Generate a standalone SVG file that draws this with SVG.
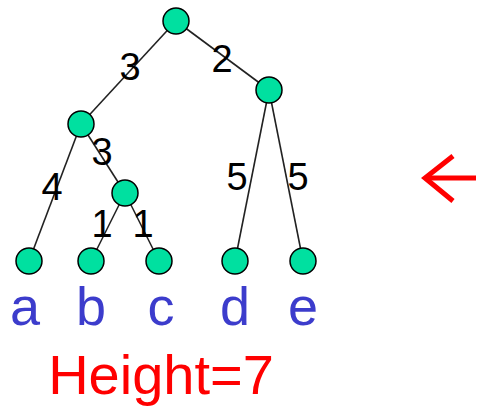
<svg xmlns="http://www.w3.org/2000/svg" width="477" height="406" viewBox="0 0 477 406">
<style>
.n{fill:#00e0a0;stroke:#000;stroke-width:1.5}
.e{stroke:#222;stroke-width:1.6;fill:none}
.w{font-family:"Liberation Sans",Arial,sans-serif;font-size:38px;fill:#000;text-anchor:middle}
.l{font-family:"Liberation Sans",Arial,sans-serif;font-size:54px;fill:#3c3ccc;text-anchor:middle}
</style>
<rect width="477" height="406" fill="#fff"/>
<g id="connectors">
<line class="e" x1="176" y1="21" x2="81" y2="124"/>
<line class="e" x1="176" y1="21" x2="269" y2="90"/>
<line class="e" x1="81" y1="124" x2="29" y2="261"/>
<line class="e" x1="81" y1="124" x2="125" y2="193"/>
<line class="e" x1="125" y1="193" x2="91" y2="261"/>
<line class="e" x1="125" y1="193" x2="159" y2="261"/>
<line class="e" x1="269" y1="90" x2="235" y2="261"/>
<line class="e" x1="269" y1="90" x2="303" y2="261"/>
</g>
<g id="weights">
<text class="w" x="130" y="80">3</text>
<text class="w" x="222" y="72">2</text>
<text class="w" x="102" y="165">3</text>
<text class="w" x="52" y="200">4</text>
<text class="w" x="237" y="190">5</text>
<text class="w" x="298" y="190">5</text>
<text class="w" x="102" y="237">1</text>
<text class="w" x="143" y="237">1</text>
</g>
<g id="root"><circle class="n" cx="176" cy="21" r="13"/></g>
<g id="n1"><circle class="n" cx="81" cy="124" r="13"/></g>
<g id="n2"><circle class="n" cx="269" cy="90" r="13"/></g>
<g id="n3"><circle class="n" cx="125" cy="193" r="13"/></g>
<g id="a"><circle class="n" cx="29" cy="261" r="13"/><text class="l" x="25" y="325">a</text></g>
<g id="b"><circle class="n" cx="91" cy="261" r="13"/><text class="l" x="91" y="325">b</text></g>
<g id="c"><circle class="n" cx="159" cy="261" r="13"/><text class="l" x="161" y="325">c</text></g>
<g id="d"><circle class="n" cx="235" cy="261" r="13"/><text class="l" x="235" y="325">d</text></g>
<g id="e"><circle class="n" cx="303" cy="261" r="13"/><text class="l" x="303" y="325">e</text></g>
<text x="161" y="394" font-family="Liberation Sans,Arial,sans-serif" font-size="56" fill="#ff0000" text-anchor="middle">Height=7</text>
<g id="arrow" stroke="#ff0000" stroke-width="5" fill="none" stroke-linecap="butt">
<path d="M476 178 H425"/>
<path d="M453 156 L425 178 L453 201"/>
</g>
</svg>
